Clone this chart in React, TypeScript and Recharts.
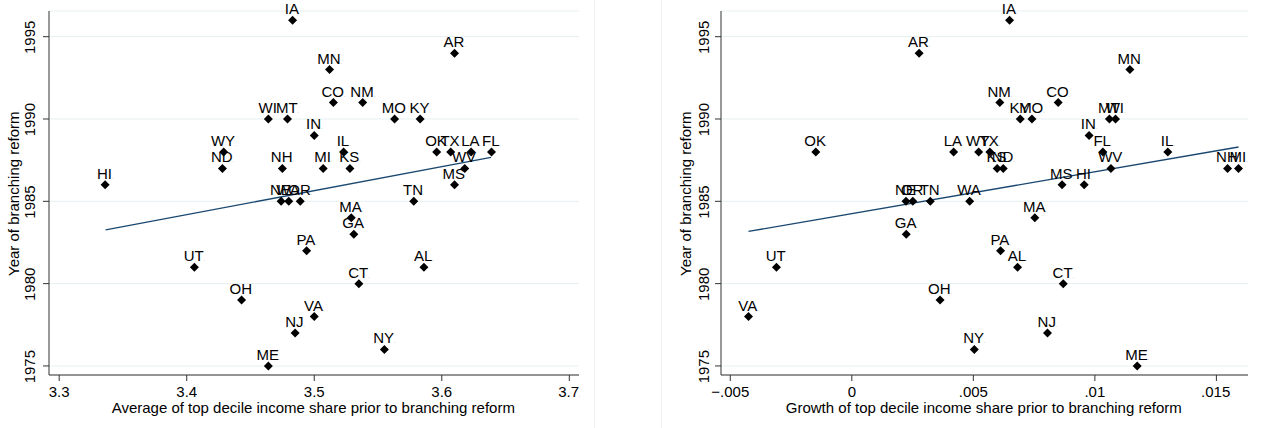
import React from 'react';
import { ScatterChart, Scatter, XAxis, YAxis, CartesianGrid, ReferenceLine } from 'recharts';

// ---- data (aligned by state) ----
const states = ['IA','AR','MN','CO','NM','WI','MT','MO','KY','IN','WY','IL','OK','TX','LA','FL','ND','NH','MI','KS','WV','HI','MS','NE','WA','OR','TN','MA','GA','PA','UT','AL','CT','OH','VA','NJ','NY','ME'];
const reformYear = [1996,1994,1993,1991,1991,1990,1990,1990,1990,1989,1988,1988,1988,1988,1988,1988,1987,1987,1987,1987,1987,1986,1986,1985,1985,1985,1985,1984,1983,1982,1981,1981,1980,1979,1978,1977,1976,1975];
const avgTopDecile = [3.483,3.610,3.512,3.515,3.538,3.464,3.479,3.563,3.583,3.500,3.429,3.523,3.596,3.607,3.623,3.639,3.428,3.475,3.507,3.528,3.618,3.336,3.610,3.474,3.480,3.489,3.578,3.529,3.531,3.494,3.406,3.586,3.535,3.443,3.500,3.485,3.555,3.464];
const growthTopDecile = [0.00649,0.00277,0.01144,0.00849,0.00609,0.01085,0.01060,0.00741,0.00693,0.00976,0.00522,0.01300,-0.00148,0.00568,0.00419,0.01033,0.00623,0.01546,0.01591,0.00598,0.01066,0.00956,0.00865,0.00223,0.00485,0.00251,0.00323,0.00753,0.00224,0.00612,-0.00310,0.00682,0.00870,0.00363,-0.00425,0.00805,0.00504,0.01174];

const fitLeftX = [3.3364, 3.6386];
const fitLeftY = [1983.26, 1987.67];
const fitRightX = [-0.00425, 0.01591];
const fitRightY = [1983.17, 1988.30];

const yTicks = [1975, 1980, 1985, 1990, 1995];
const leftXTicks = [3.3, 3.4, 3.5, 3.6, 3.7];
const leftXLabels = ['3.3', '3.4', '3.5', '3.6', '3.7'];
const rightXTicks = [-0.005, 0, 0.005, 0.01, 0.015];
const rightXLabels = ['\u2212.005', '0', '.005', '.01', '.015'];

const yTitle = 'Year of branching reform';
const leftXTitle = 'Average of top decile income share prior to branching reform';
const rightXTitle = 'Growth of top decile income share prior to branching reform';

const leftData = states.map((s, i) => ({ state: s, x: avgTopDecile[i], y: reformYear[i] }));
const rightData = states.map((s, i) => ({ state: s, x: growthTopDecile[i], y: reformYear[i] }));

const FONT = "Arial, 'Liberation Sans', Helvetica, sans-serif";
const AXIS = '#333333';
const GRID = '#e6eff1';
const FIT = '#1a476f';
const Y_DOMAIN: [number, number] = [1974.45, 1996.56];

const Dot = () => <tspan fontSize={5} fill="#9a9a9a">.</tspan>;

const StateMark = (props: any) => {
  const { cx, cy, payload } = props;
  const r = 4.5;
  return (
    <g>
      <path d={`M${cx},${cy - r}L${cx + r},${cy}L${cx},${cy + r}L${cx - r},${cy}Z`} fill="#000" />
      <text x={cx} y={cy - 6} textAnchor="middle" fontSize={15} fontFamily={FONT} fill="#000">
        {payload.state}
        <Dot />
      </text>
    </g>
  );
};

const makeXTick = (labels: string[], ticks: number[], baseline: number) => (props: any) => {
  const { x, payload } = props;
  const idx = ticks.findIndex((t) => Math.abs(t - payload.value) < 1e-9);
  const last = idx === ticks.length - 1;
  return (
    <text x={x} y={baseline} textAnchor="middle" fontSize={15} fontFamily={FONT} fill="#000">
      {labels[idx]}
      {last ? <Dot /> : null}
    </text>
  );
};

const makeYTick = (baselineX: number) => (props: any) => {
  const { y, payload } = props;
  return (
    <text transform={`translate(${baselineX},${y}) rotate(-90)`} textAnchor="middle" fontSize={15} fontFamily={FONT} fill="#000">
      {String(payload.value)}
      <Dot />
    </text>
  );
};

const XTitle = (props: any) => (
  <text x={props.cx0} y={props.by} textAnchor="middle" fontSize={15} fontFamily={FONT} fill="#000">
    {props.text}
    <Dot />
  </text>
);

const YTitle = (props: any) => (
  <text transform={`translate(${props.bx},${props.cy0}) rotate(-90)`} textAnchor="middle" fontSize={15} fontFamily={FONT} fill="#000">
    {props.text}
    <Dot />
  </text>
);

interface PanelProps {
  data: { state: string; x: number; y: number }[];
  xDomain: [number, number];
  xTicks: number[];
  xLabels: string[];
  xTitle: string;
  fitX: number[];
  fitY: number[];
  yAxisWidth: number;
  marginRight: number;
  yTickX: number;
  yTitleX: number;
}

const W = 631;
const H = 428;
const TOP = 11;
const AXIS_Y = 375;

const Panel = (p: PanelProps) => {
  const plotCenterX = p.yAxisWidth + (W - p.yAxisWidth - p.marginRight) / 2;
  const plotCenterY = (TOP + AXIS_Y) / 2;
  return (
    <ScatterChart width={W} height={H} margin={{ top: TOP, right: p.marginRight, bottom: 0, left: 0 }} style={{ overflow: 'visible' }}>
      <CartesianGrid vertical={false} stroke={GRID} strokeWidth={1} />
      <XAxis
        type="number"
        dataKey="x"
        domain={p.xDomain}
        ticks={p.xTicks}
        interval={0}
        height={H - AXIS_Y}
        stroke={AXIS}
        tickSize={6}
        tick={makeXTick(p.xLabels, p.xTicks, 397)}
        label={<XTitle cx0={plotCenterX} by={413} text={p.xTitle} />}
      />
      <YAxis
        type="number"
        dataKey="y"
        domain={Y_DOMAIN}
        ticks={yTicks}
        interval={0}
        width={p.yAxisWidth}
        stroke={AXIS}
        tickSize={6}
        tick={makeYTick(p.yTickX)}
        label={<YTitle bx={p.yTitleX} cy0={plotCenterY} text={yTitle} />}
      />
      <ReferenceLine
        segment={[{ x: p.fitX[0], y: p.fitY[0] }, { x: p.fitX[1], y: p.fitY[1] }]}
        stroke={FIT}
        strokeWidth={1.3}
        ifOverflow="visible"
      />
      <Scatter data={p.data} shape={StateMark} isAnimationActive={false} />
    </ScatterChart>
  );
};

export default function App() {
  return (
    <div style={{ position: 'absolute', left: 0, top: 0, width: 1262, height: 428, background: '#fff', overflow: 'hidden' }}>
      <div style={{ position: 'absolute', left: 594, top: 0, width: 1, height: 428, background: '#f1f1f1' }} />
      <div style={{ position: 'absolute', left: 661, top: 0, width: 1, height: 428, background: '#f1f1f1' }} />
      <div style={{ position: 'absolute', left: 0, top: 0 }}>
        <Panel
          data={leftData}
          xDomain={[3.292, 3.7076]}
          xTicks={leftXTicks}
          xLabels={leftXLabels}
          xTitle={leftXTitle}
          fitX={fitLeftX}
          fitY={fitLeftY}
          yAxisWidth={49}
          marginRight={52}
          yTickX={35}
          yTitleX={19}
        />
      </div>
      <div style={{ position: 'absolute', left: 631, top: 0 }}>
        <Panel
          data={rightData}
          xDomain={[-0.005382, 0.0163]}
          xTicks={rightXTicks}
          xLabels={rightXLabels}
          xTitle={rightXTitle}
          fitX={fitRightX}
          fitY={fitRightY}
          yAxisWidth={90}
          marginRight={14}
          yTickX={78}
          yTitleX={60}
        />
      </div>
    </div>
  );
}
